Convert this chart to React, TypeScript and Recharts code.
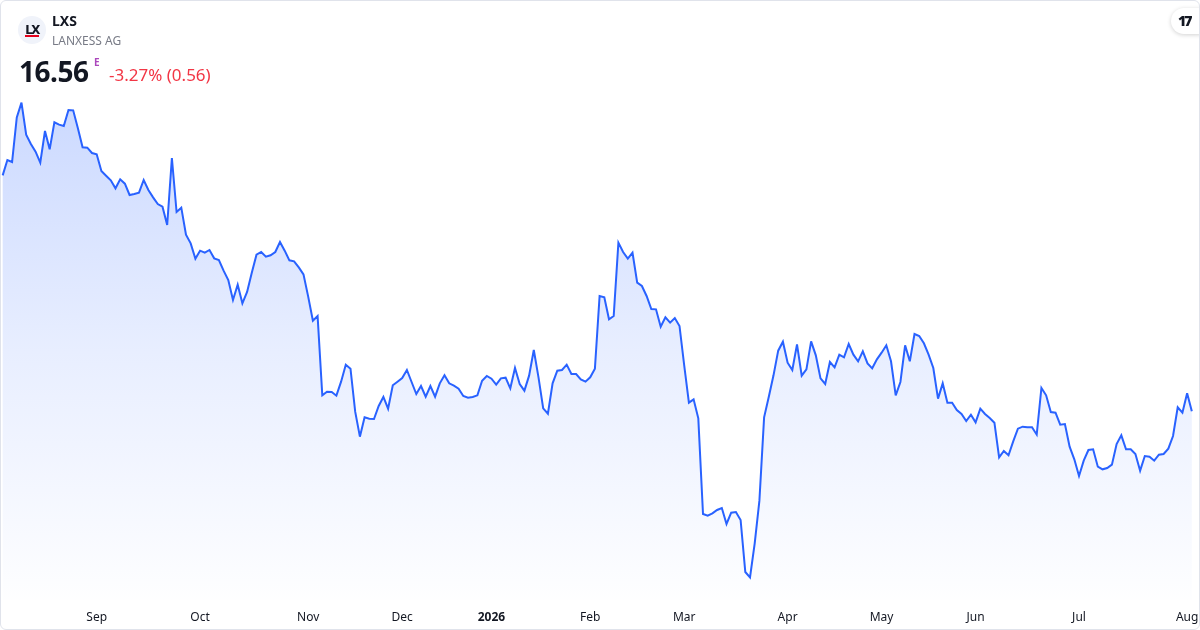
import React from "react";
import { AreaChart, Area, XAxis, YAxis } from "recharts";

// daily closes, LXS (EUR), mid Aug 2025 -> early Aug 2026
const closes = [
  23.64, 24.1, 24.04, 25.38, 25.82, 24.86, 24.58, 24.35, 24.02, 24.97,
  24.42, 25.23, 25.16, 25.12, 25.6, 25.59, 25.05, 24.48, 24.47, 24.31,
  24.27, 23.77, 23.63, 23.49, 23.25, 23.52, 23.39, 23.05, 23.08, 23.12,
  23.5, 23.2, 22.98, 22.78, 22.7, 22.15, 24.16, 22.54, 22.67, 21.86,
  21.6, 21.14, 21.38, 21.32, 21.4, 21.15, 21.1, 20.78, 20.5, 19.9,
  20.36, 19.8, 20.14, 20.72, 21.26, 21.34, 21.2, 21.24, 21.34, 21.64,
  21.38, 21.09, 21.06, 20.88, 20.67, 20.0, 19.28, 19.42, 17.04, 17.15,
  17.14, 17.03, 17.45, 17.96, 17.84, 16.55, 15.8, 16.38, 16.34, 16.33,
  16.72, 16.99, 16.64, 17.34, 17.45, 17.56, 17.8, 17.44, 17.08, 17.32,
  17.0, 17.32, 17.0, 17.4, 17.64, 17.4, 17.33, 17.24, 17.02, 16.97,
  16.99, 17.04, 17.48, 17.62, 17.54, 17.36, 17.55, 17.57, 17.25, 17.86,
  17.38, 17.18, 17.63, 18.4, 17.58, 16.65, 16.49, 17.4, 17.78, 17.8,
  17.96, 17.68, 17.68, 17.52, 17.45, 17.58, 17.84, 20.02, 19.98, 19.32,
  19.42, 21.62, 21.34, 21.14, 21.32, 20.42, 20.32, 20.02, 19.63, 19.62,
  19.1, 19.38, 19.22, 19.36, 19.12, 17.94, 16.82, 16.92, 16.35, 13.48,
  13.43, 13.5, 13.6, 13.66, 13.18, 13.52, 13.54, 13.3, 11.74, 11.58,
  12.6, 13.88, 16.38, 17.0, 17.64, 18.38, 18.65, 18.02, 17.8, 18.57,
  17.63, 17.82, 18.66, 18.24, 17.55, 17.38, 18.04, 17.88, 18.26, 18.18,
  18.58, 18.26, 18.06, 18.36, 18.0, 17.85, 18.12, 18.32, 18.54, 18.06,
  17.04, 17.44, 18.54, 18.06, 18.88, 18.82, 18.6, 18.26, 17.86, 16.94,
  17.4, 16.82, 16.82, 16.6, 16.48, 16.27, 16.46, 16.23, 16.64, 16.48,
  16.36, 16.22, 15.18, 15.37, 15.24, 15.66, 16.04, 16.1, 16.08, 16.08,
  15.86, 17.26, 17.04, 16.54, 16.52, 16.16, 16.18, 15.5, 15.12, 14.62,
  15.08, 15.4, 15.42, 14.9, 14.82, 14.86, 14.96, 15.58, 15.84, 15.42,
  15.42, 15.28, 14.78, 15.22, 15.2, 15.08, 15.26, 15.28, 15.44, 15.82,
  16.68, 16.52, 17.1, 16.56,
];

// bar index of the first session of each month
const tickIdx = [20, 42, 65, 85, 104, 125, 145, 167, 187, 207, 229, 252];
const tickLabels = [
  "Sep", "Oct", "Nov", "Dec", "2026", "Feb",
  "Mar", "Apr", "May", "Jun", "Jul", "Aug",
];

const data = closes.map((c, i) => ({ i, c }));

const FONT = '"Noto Sans", "Open Sans", Roboto, sans-serif';

const MonthTick = ({ x, y, payload }: any) => {
  const k = tickIdx.indexOf(payload.value);
  const label = tickLabels[k] ?? "";
  const isYear = /^\d{4}$/.test(label);
  return (
    <text
      x={x}
      y={y}
      dy="0.71em"
      textAnchor="middle"
      fontSize={12}
      fontFamily={FONT}
      fontWeight={isYear ? 700 : 400}
      fill="#131722"
    >
      {label}
    </text>
  );
};

const App: React.FC = () => {
  return (
    <div
      style={{
        position: "fixed",
        left: 0,
        top: 0,
        width: 1198,
        height: 628,
        border: "1px solid #e0e3eb",
        borderRadius: 6,
        overflow: "hidden",
        background: "#ffffff",
        fontFamily: FONT,
      }}
    >
      <div style={{ position: "absolute", left: -1, top: -1 }}>
        <AreaChart
          width={1200}
          height={630}
          data={data}
          margin={{ top: 0, right: 0, bottom: 0, left: 0 }}
        >
          <defs>
            <linearGradient id="lxsFill" x1="0" y1="0" x2="0" y2="1">
              <stop offset="0%" stopColor="#2962ff" stopOpacity={0.4} />
              <stop offset="50%" stopColor="#2962ff" stopOpacity={0.18} />
              <stop offset="100%" stopColor="#2962ff" stopOpacity={0.01} />
            </linearGradient>
          </defs>
          <XAxis
            dataKey="i"
            type="number"
            domain={[-0.57, 254.74]}
            allowDataOverflow
            ticks={tickIdx}
            interval={0}
            height={30}
            axisLine={false}
            tickLine={false}
            tickSize={0}
            tickMargin={12}
            tick={<MonthTick />}
          />
          <YAxis hide domain={[10.9, 28.9]} allowDataOverflow />
          <Area
            type="linear"
            dataKey="c"
            stroke="#2962ff"
            strokeWidth={2}
            fill="url(#lxsFill)"
            isAnimationActive={false}
            dot={false}
            activeDot={false}
          />
        </AreaChart>
      </div>

      {/* header */}
      <div
        style={{
          position: "absolute",
          left: 17,
          top: 15,
          width: 28,
          height: 28,
          borderRadius: "50%",
          background: "#f0f3fa",
          display: "flex",
          alignItems: "center",
          justifyContent: "center",
        }}
      >
        <span
          style={{
            fontSize: 13,
            fontWeight: 800,
            color: "#131722",
            letterSpacing: -1.5,
            borderBottom: "2px solid #e3001b",
            lineHeight: "12px",
            fontFamily: FONT,
          }}
        >
          LX
        </span>
      </div>
      <div
        style={{
          position: "absolute",
          left: 51,
          top: 10,
          fontSize: 14,
          fontWeight: 700,
          color: "#131722",
        }}
      >
        LXS
      </div>
      <div
        style={{
          position: "absolute",
          left: 51,
          top: 31,
          fontSize: 12,
          color: "#787b86",
        }}
      >
        LANXESS AG
      </div>
      <div
        style={{
          position: "absolute",
          left: 18,
          top: 51,
          fontSize: 28,
          fontWeight: 700,
          color: "#131722",
          letterSpacing: -0.5,
        }}
      >
        16.56
      </div>
      <div
        style={{
          position: "absolute",
          left: 93,
          top: 54,
          fontSize: 10,
          fontWeight: 700,
          color: "#ab47bc",
        }}
      >
        E
      </div>
      <div
        style={{
          position: "absolute",
          left: 108,
          top: 62,
          fontSize: 17,
          color: "#f23645",
        }}
      >
        -3.27% (0.56)
      </div>

      {/* TradingView badge */}
      <div
        style={{
          position: "absolute",
          right: -12,
          top: 7,
          width: 40,
          height: 26,
          borderRadius: 13,
          background: "#ffffff",
          boxShadow: "0 1px 4px rgba(0,0,0,0.18)",
        }}
      >
        <span
          style={{
            position: "absolute",
            left: 7,
            top: 3,
            fontSize: 14,
            fontWeight: 900,
            color: "#131722",
            letterSpacing: -2,
          }}
        >
          17
        </span>
      </div>
    </div>
  );
};

export default App;
